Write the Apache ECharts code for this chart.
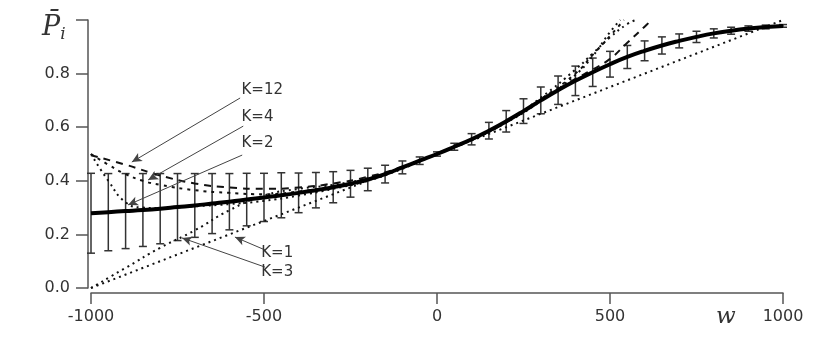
<!DOCTYPE html>
<html>
<head>
<meta charset="utf-8">
<script src="https://cdn.jsdelivr.net/npm/echarts@6/dist/echarts.min.js"></script>
<style>
  html, body { margin: 0; padding: 0; background: #fff; }
  #chart { width: 830px; height: 356px; }
</style>
</head>
<body>
<div id="chart"></div>
<script>
// simulated mean with error bars, w = -1000 .. 1000 step 50
const wMean = [-1000, -950, -900, -850, -800, -750, -700, -650, -600, -550, -500, -450, -400, -350, -300, -250, -200, -150, -100, -50,
  0, 50, 100, 150, 200, 250, 300, 350, 400, 450, 500, 550, 600, 650, 700, 750, 800, 850, 900, 950, 1000]
const pMean = [0.279, 0.283, 0.287, 0.291, 0.296, 0.302, 0.308, 0.315, 0.322, 0.330, 0.338, 0.346, 0.355, 0.365, 0.376, 0.389, 0.405, 0.425, 0.450, 0.475,
  0.500, 0.527, 0.555, 0.587, 0.622, 0.660, 0.700, 0.738, 0.773, 0.805, 0.835, 0.862, 0.885, 0.905, 0.922, 0.937, 0.950, 0.960, 0.968, 0.974, 0.978]
const pErr = [0.149, 0.144, 0.140, 0.136, 0.131, 0.125, 0.119, 0.112, 0.105, 0.098, 0.090, 0.084, 0.074, 0.066, 0.058, 0.050, 0.042, 0.033, 0.024, 0.014,
  0.008, 0.013, 0.021, 0.031, 0.040, 0.046, 0.050, 0.053, 0.055, 0.053, 0.048, 0.043, 0.037, 0.032, 0.026, 0.021, 0.017, 0.013, 0.010, 0.007, 0.005]

// approximations for K terms
const wK1 = [-1000, 1000]
const pK1 = [0.0, 1.0]
const wK3 = [-1000, -900, -800, -700, -600, -500, -400, -300, -200, -100, 0, 100, 200, 300, 400, 450, 500, 530]
const pK3 = [0.0, 0.075, 0.15, 0.215, 0.29, 0.345, 0.37, 0.385, 0.41, 0.45, 0.5, 0.552, 0.617, 0.697, 0.795, 0.865, 0.955, 1.0]
const wK2 = [-1000, -950, -900, -850, -800, -700, -600, -500, -400, -300, -200, -100, 0, 100, 200, 300, 400, 450, 500, 550, 575]
const pK2 = [0.5, 0.4, 0.32, 0.3, 0.298, 0.305, 0.313, 0.325, 0.345, 0.37, 0.4, 0.445, 0.5, 0.555, 0.62, 0.71, 0.815, 0.875, 0.935, 0.985, 1.0]
const wK4 = [-1000, -950, -900, -850, -800, -700, -600, -500, -400, -300, -200, -100, 0, 100, 200, 300, 400, 450, 500, 540]
const pK4 = [0.5, 0.46, 0.425, 0.4, 0.385, 0.365, 0.355, 0.35, 0.36, 0.38, 0.405, 0.45, 0.5, 0.554, 0.62, 0.705, 0.8, 0.87, 0.94, 1.0]
const wK12 = [-1000, -900, -800, -700, -600, -500, -400, -300, -200, -100, 0, 100, 200, 300, 400, 450, 500, 550, 600, 620]
const pK12 = [0.495, 0.46, 0.42, 0.39, 0.375, 0.37, 0.375, 0.39, 0.415, 0.452, 0.5, 0.553, 0.618, 0.7, 0.78, 0.815, 0.855, 0.915, 0.975, 1.0]

const yTicks = [0.0, 0.2, 0.4, 0.6, 0.8]

const pairs = (ws, ps) => ws.map((w, i) => [w, ps[i]])

const chart = echarts.init(document.getElementById('chart'))

const axisColor = '#555'
const textColor = '#333'

function renderErrBar(params, api) {
  const w = api.value(0)
  const lo = api.coord([w, api.value(1)])
  const hi = api.coord([w, api.value(2)])
  const cap = 4
  const style = { stroke: '#333', lineWidth: 1.5 }
  return {
    type: 'group',
    children: [
      { type: 'line', shape: { x1: lo[0], y1: lo[1], x2: hi[0], y2: hi[1] }, style },
      { type: 'line', shape: { x1: lo[0] - cap, y1: lo[1], x2: lo[0] + cap, y2: lo[1] }, style },
      { type: 'line', shape: { x1: hi[0] - cap, y1: hi[1], x2: hi[0] + cap, y2: hi[1] }, style },
    ],
  }
}

// annotation arrows: from label to curve
const arrows = [
  [[-569, 0.709], [-882, 0.470]],
  [[-560, 0.604], [-835, 0.403]],
  [[-563, 0.496], [-893, 0.310]],
  [[-497, 0.142], [-584, 0.190]],
  [[-497, 0.078], [-737, 0.187]],
]
const notes = [
  { name: 'K=12', coord: [-565, 0.739] },
  { name: 'K=4', coord: [-565, 0.638] },
  { name: 'K=2', coord: [-565, 0.541] },
  { name: 'K=1', coord: [-508, 0.131] },
  { name: 'K=3', coord: [-508, 0.060] },
]

chart.setOption({
  animation: false,
  backgroundColor: '#fff',
  grid: { left: 91, right: 47, top: 20, bottom: 68 },
  xAxis: {
    type: 'value',
    min: -1000,
    max: 1000,
    interval: 500,
    offset: 5,
    axisLine: { show: true, onZero: false, lineStyle: { color: axisColor, width: 1.5 } },
    axisTick: { show: true, length: 11, lineStyle: { color: axisColor, width: 1.5 } },
    axisLabel: {
      margin: 16,
      color: textColor,
      fontFamily: 'DejaVu Sans',
      fontSize: 16,
      formatter: (v) => String(v),
    },
    splitLine: { show: false },
  },
  yAxis: {
    type: 'value',
    min: 0,
    max: 1,
    interval: 0.2,
    offset: 3,
    axisLine: { show: true, onZero: false, lineStyle: { color: axisColor, width: 1.5 } },
    axisTick: { show: true, length: 12, lineStyle: { color: axisColor, width: 1.5 } },
    axisLabel: {
      margin: 18,
      color: textColor,
      fontFamily: 'DejaVu Sans',
      fontSize: 16,
      formatter: (v) => (yTicks.some((t) => Math.abs(t - v) < 1e-9) ? v.toFixed(1) : ''),
    },
    splitLine: { show: false },
  },
  graphic: [
    {
      type: 'text',
      left: 42,
      top: 14,
      style: {
        text: '{p|P\u0304}{i|i}',
        rich: {
          p: { fontFamily: 'DejaVu Serif', fontStyle: 'italic', fontSize: 27, fill: '#333' },
          i: { fontFamily: 'DejaVu Serif', fontStyle: 'italic', fontSize: 17, fill: '#333', padding: [14, 0, 0, 0] },
        },
      },
    },
    {
      type: 'text',
      left: 716,
      top: 306,
      style: { text: 'w', fontFamily: 'DejaVu Serif', fontStyle: 'italic', fontSize: 23, fill: '#333' },
    },
  ],
  series: [
    {
      name: 'K=1',
      type: 'line',
      data: pairs(wK1, pK1),
      showSymbol: false,
      lineStyle: { color: '#111', width: 2, type: [2, 4] },
    },
    {
      name: 'K=3',
      type: 'line',
      data: pairs(wK3, pK3),
      smooth: true,
      showSymbol: false,
      lineStyle: { color: '#111', width: 2, type: [2, 4] },
    },
    {
      name: 'K=2',
      type: 'line',
      data: pairs(wK2, pK2),
      smooth: true,
      showSymbol: false,
      lineStyle: { color: '#111', width: 2, type: [2, 4] },
    },
    {
      name: 'K=4',
      type: 'line',
      data: pairs(wK4, pK4),
      smooth: true,
      showSymbol: false,
      lineStyle: { color: '#111', width: 2, type: [3, 5] },
    },
    {
      name: 'K=12',
      type: 'line',
      data: pairs(wK12, pK12),
      smooth: true,
      showSymbol: false,
      lineStyle: { color: '#111', width: 2, type: [7, 6] },
    },
    {
      name: 'error',
      type: 'custom',
      renderItem: renderErrBar,
      data: wMean.map((w, i) => [w, pMean[i] - pErr[i], pMean[i] + pErr[i]]),
      z: 3,
    },
    {
      name: 'mean',
      type: 'line',
      data: pairs(wMean, pMean),
      smooth: true,
      showSymbol: false,
      z: 4,
      lineStyle: { color: '#000', width: 4 },
      markLine: {
        silent: true,
        symbol: ['none', 'arrow'],
        symbolSize: [7, 10],
        lineStyle: { color: '#444', width: 1, type: 'solid' },
        label: { show: false },
        data: arrows.map(([a, b]) => [{ coord: a }, { coord: b }]),
      },
      markPoint: {
        silent: true,
        symbol: 'circle',
        symbolSize: 0,
        label: {
          show: true,
          position: 'right',
          distance: 0,
          color: textColor,
          fontFamily: 'DejaVu Sans',
          fontSize: 15,
          formatter: (p) => p.name,
        },
        data: notes,
      },
    },
  ],
})
</script>
</body>
</html>
